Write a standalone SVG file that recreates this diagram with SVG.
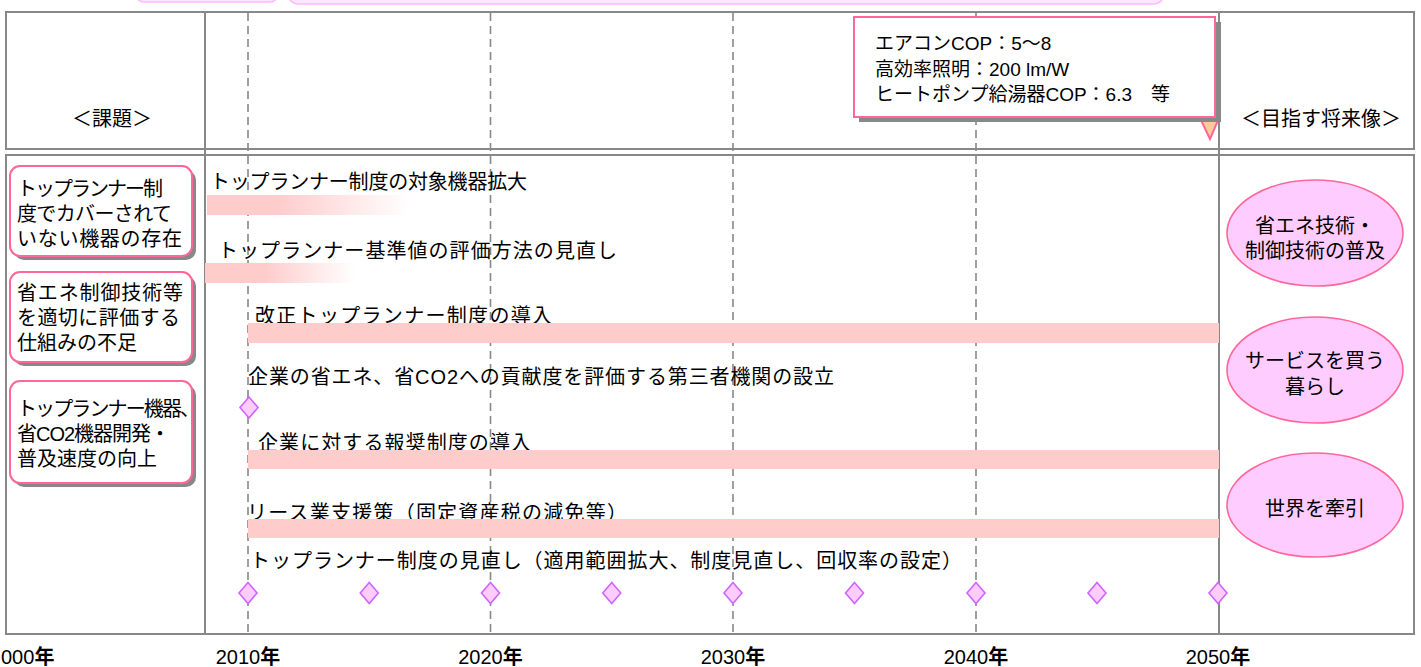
<svg xmlns="http://www.w3.org/2000/svg" width="1421" height="667" viewBox="0 0 1421 667">
<style>
text{font-family:'Liberation Sans','Noto Sans CJK JP',sans-serif;fill:#000}
.t20{font-size:20px}
.t19{font-size:19px}
.frame{fill:none;stroke:#888;stroke-width:2}
.dash{stroke:#888;stroke-width:1.6;stroke-dasharray:8 5}
.bar{fill:#FFCCCC}
.dia{fill:#FFCCFF;stroke:#CC66FF;stroke-width:1.6}
.box{fill:#fff;stroke:#FF6699;stroke-width:2}
.shadow{fill:#888}
.ell{fill:#FFCCFF;stroke:#FF6699;stroke-width:1.6}
.yr{font-size:20px}
.yr tspan.b{font-weight:bold}
</style>
<defs>
<linearGradient id="fade1" x1="0" y1="0" x2="1" y2="0">
<stop offset="0" stop-color="#FFCCCC"/><stop offset="0.35" stop-color="#FFCCCC"/><stop offset="1" stop-color="#FFFFFF"/>
</linearGradient>
<linearGradient id="fade2" x1="0" y1="0" x2="1" y2="0">
<stop offset="0" stop-color="#FFCCCC"/><stop offset="0.4" stop-color="#FFCCCC"/><stop offset="1" stop-color="#FFFFFF"/>
</linearGradient>
<path id="dm" d="M0,-10.5 L9,0 L0,10.5 L-9,0 Z"/>
</defs>

<g id="top-strip">
<rect x="136" y="-30" width="142" height="32" rx="8" fill="#FFE6FF" stroke="#FFB8FF" stroke-width="1.5"/>
<rect x="288" y="-30" width="876" height="34" rx="10" fill="#FFE6FF" stroke="#FFB8FF" stroke-width="1.5"/>
</g>

<g id="grid">
<rect class="frame" x="6" y="12" width="1408" height="137"/>
<rect class="frame" x="6" y="155" width="1408" height="479"/>
<line class="frame" x1="205" y1="12" x2="205" y2="634"/>
<line class="frame" x1="1219" y1="12" x2="1219" y2="634"/>
<line class="dash" x1="248" y1="13" x2="248" y2="633"/>
<line class="dash" x1="490.5" y1="13" x2="490.5" y2="633"/>
<line class="dash" x1="733" y1="13" x2="733" y2="633"/>
<line class="dash" x1="976" y1="13" x2="976" y2="633"/>
</g>

<g id="headers">
<text class="t20" x="112" y="126" text-anchor="middle">＜課題＞</text>
<text class="t20" x="1321" y="126" text-anchor="middle">＜目指す将来像＞</text>
</g>

<g id="measures">
<text class="t20" x="210" y="189" textLength="317">トップランナー制度の対象機器拡大</text>
<text class="t20" x="218" y="258" textLength="399">トップランナー基準値の評価方法の見直し</text>
<text class="t20" x="255" y="323" textLength="297">改正トップランナー制度の導入</text>
<text class="t20" x="248" y="384" textLength="586">企業の省エネ、省CO2への貢献度を評価する第三者機関の設立</text>
<text class="t20" x="258" y="450" textLength="273">企業に対する報奨制度の導入</text>
<text class="t20" x="247" y="520" textLength="380">リース業支援策（固定資産税の減免等）</text>
<text class="t20" x="250" y="568" textLength="712">トップランナー制度の見直し（適用範囲拡大、制度見直し、回収率の設定）</text>
</g>

<g id="bars">
<rect x="207" y="195" width="203" height="20" fill="url(#fade1)"/>
<rect x="205" y="263" width="150" height="20" fill="url(#fade2)"/>
<rect class="bar" x="248" y="323" width="971" height="20"/>
<rect class="bar" x="248" y="450" width="971" height="19"/>
<rect class="bar" x="248" y="519" width="971" height="19"/>
</g>

<g id="milestones">
<use href="#dm" class="dia" x="249" y="407.5"/>
<use href="#dm" class="dia" x="248" y="593"/>
<use href="#dm" class="dia" x="369.25" y="593"/>
<use href="#dm" class="dia" x="490.5" y="593"/>
<use href="#dm" class="dia" x="611.75" y="593"/>
<use href="#dm" class="dia" x="733" y="593"/>
<use href="#dm" class="dia" x="854.5" y="593"/>
<use href="#dm" class="dia" x="976" y="593"/>
<use href="#dm" class="dia" x="1097" y="593"/>
<use href="#dm" class="dia" x="1218" y="593"/>
</g>

<g id="issue1">
<rect class="shadow" x="14" y="170" width="182" height="90" rx="10"/>
<rect class="box" x="10" y="166" width="182" height="90" rx="10"/>
<text class="t20" x="17" y="196" textLength="146">トップランナー制</text>
<text class="t20" x="17" y="221" textLength="155">度でカバーされて</text>
<text class="t20" x="17" y="246" textLength="165">いない機器の存在</text>
</g>
<g id="issue2">
<rect class="shadow" x="14" y="276" width="182" height="90" rx="10"/>
<rect class="box" x="10" y="272" width="182" height="90" rx="10"/>
<text class="t20" x="17" y="300" textLength="166">省エネ制御技術等</text>
<text class="t20" x="17" y="325" textLength="163">を適切に評価する</text>
<text class="t20" x="17" y="350">仕組みの不足</text>
</g>
<g id="issue3">
<rect class="shadow" x="14" y="385" width="182" height="102" rx="10"/>
<rect class="box" x="10" y="381" width="182" height="102" rx="10"/>
<text class="t20" x="17" y="416" textLength="183">トップランナー機器、</text>
<text class="t20" x="17" y="441" textLength="153">省CO2機器開発・</text>
<text class="t20" x="17" y="466">普及速度の向上</text>
</g>

<g id="goal1">
<ellipse class="ell" cx="1315" cy="233" rx="88" ry="53"/>
<text class="t20" x="1315" y="233" text-anchor="middle">省エネ技術・</text>
<text class="t20" x="1315" y="258" text-anchor="middle">制御技術の普及</text>
</g>
<g id="goal2">
<ellipse class="ell" cx="1315" cy="370" rx="88" ry="53"/>
<text class="t20" x="1315" y="368" text-anchor="middle">サービスを買う</text>
<text class="t20" x="1315" y="394" text-anchor="middle">暮らし</text>
</g>
<g id="goal3">
<ellipse class="ell" cx="1315" cy="505" rx="88" ry="52"/>
<text class="t20" x="1315" y="516" text-anchor="middle">世界を牽引</text>
</g>

<g id="callout">
<polygon points="1200,118 1219,118 1210,139" fill="#FFCC99" stroke="#FF6699" stroke-width="2"/>
<rect class="shadow" x="859" y="22" width="362" height="100"/>
<rect class="box" x="854" y="17" width="361" height="100" stroke-width="2.5"/>
<text class="t19" x="875" y="50">エアコンCOP：5～8</text>
<text class="t19" x="875" y="76">高効率照明：200 lm/W</text>
<text class="t19" x="875" y="101">ヒートポンプ給湯器COP：6.3　等</text>
</g>

<g id="axis">
<text class="yr" x="1" y="664">000<tspan class="b">年</tspan></text>
<text class="yr" x="248" y="664" text-anchor="middle">2010<tspan class="b">年</tspan></text>
<text class="yr" x="490.5" y="664" text-anchor="middle">2020<tspan class="b">年</tspan></text>
<text class="yr" x="733" y="664" text-anchor="middle">2030<tspan class="b">年</tspan></text>
<text class="yr" x="976" y="664" text-anchor="middle">2040<tspan class="b">年</tspan></text>
<text class="yr" x="1218" y="664" text-anchor="middle">2050<tspan class="b">年</tspan></text>
</g>
</svg>
